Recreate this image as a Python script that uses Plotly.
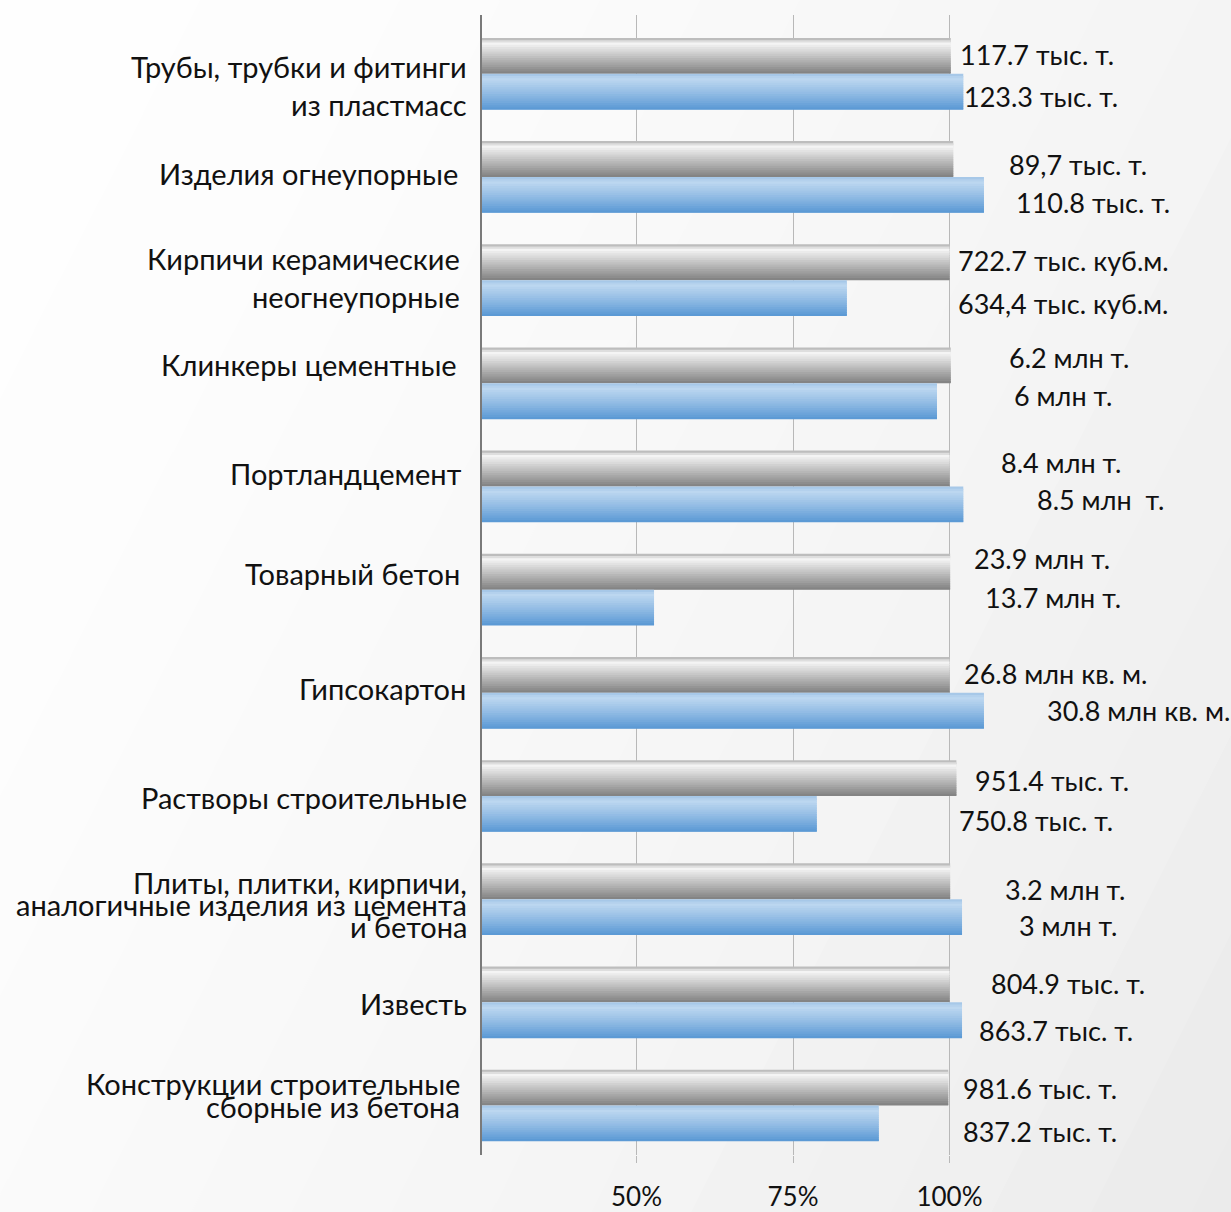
import plotly.graph_objects as go

# ---------------- data ----------------
categories = [
    "Трубы, трубки и фитинги\nиз пластмасс",
    "Изделия огнеупорные",
    "Кирпичи керамические\nнеогнеупорные",
    "Клинкеры цементные",
    "Портландцемент",
    "Товарный бетон",
    "Гипсокартон",
    "Растворы строительные",
    "Плиты, плитки, кирпичи,\nаналогичные изделия из цемента\nи бетона",
    "Известь",
    "Конструкции строительные\nсборные из бетона",
]
prev_pct = [100.2, 100.6, 100.0, 100.2, 100.0, 100.1, 100.0, 101.1, 100.1, 100.0, 99.8]
curr_pct = [102.2, 105.5, 83.6, 98.0, 102.2, 52.8, 105.5, 78.8, 102.0, 102.0, 88.7]
prev_labels = ["117.7 тыс. т.", "89,7 тыс. т.", "722.7 тыс. куб.м.", "6.2 млн т.", "8.4 млн т.",
               "23.9 млн т.", "26.8 млн кв. м.", "951.4 тыс. т.", "3.2 млн т.", "804.9 тыс. т.",
               "981.6 тыс. т."]
curr_labels = ["123.3 тыс. т.", "110.8 тыс. т.", "634,4 тыс. куб.м.", "6 млн т.", "8.5 млн  т.",
               "13.7 млн т.", "30.8 млн кв. м.", "750.8 тыс. т.", "3 млн т.", "863.7 тыс. т.",
               "837.2 тыс. т."]
tick_vals = [50, 75, 100]
tick_text = ["50%", "75%", "100%"]

# ---------------- layout helpers ----------------
W, H = 1231, 1212
ML, MR, MT, MB = 482, 0, 15, 52
PW, PH = W - ML - MR, H - MT - MB
FONT = "Lato, 'Open Sans', 'Liberation Sans', sans-serif"
FS_CAT = 29
FS_LAB = 27
FS_TICK = 26

# label positions (pixels): center x, vertical offset from category center
prev_lab_x = [1037, 1078, 1063, 1069, 1061, 1042, 1055, 1052, 1065, 1068, 1040]
curr_lab_x = [1041, 1093, 1063, 1063, 1100, 1053, 1138, 1036, 1068, 1056, 1040]
prev_lab_dy = [-19, -12, -20, -26, -24, -31, -19, -15, -10, -19, -17]
curr_lab_dy = [23, 26, 23, 12, 13, 8, 18, 25, 26, 28, 26]
cat_right = [469, 460, 462, 459, 464, 462, 468, 469, 469, 469, 462]
cat_line_dy = [[-7, 31], [-3], [-22, 16], [-19], [-13], [-16], [-4], [2], [-17, 5, 27], [1], [-22, 1]]

THICK = 0.3475
N = 16


def lerp(c1, c2, t):
    return tuple(a + (b - a) * t for a, b in zip(c1, c2))


def grad(stops, t):
    for (t0, c0), (t1, c1) in zip(stops, stops[1:]):
        if t <= t1:
            return lerp(c0, c1, (t - t0) / (t1 - t0) if t1 > t0 else 0)
    return stops[-1][1]


gray_stops = [(0.0, (172, 172, 172)), (0.14, (246, 246, 246)), (0.5, (196, 196, 196)), (1.0, (128, 128, 128))]
blue_stops = [(0.0, (160, 196, 230)), (0.14, (190, 216, 240)), (0.55, (145, 187, 228)), (1.0, (88, 152, 212))]


def rgb(c):
    return "rgb(%d,%d,%d)" % tuple(round(v) for v in c)


fig = go.Figure()
for vals, base, stops, name in [(prev_pct, -THICK, gray_stops, "prev"), (curr_pct, 0.0, blue_stops, "curr")]:
    w = THICK / N
    for k in range(N):
        t = (k + 0.5) / N
        fig.add_trace(go.Bar(
            x=vals, y=categories, orientation="h",
            offset=base + k * w, width=w * (1.8 if k < N - 1 else 1.0),
            marker=dict(color=rgb(grad(stops, t)), line=dict(width=0)),
            showlegend=False, name=name, hoverinfo="x+y",
        ))

# ---------------- background gradient ----------------
def px2paper(x, y):
    return (x - ML) / PW, (H - MB - y) / PH


shapes = []
bands = list(range(-800, 2600, 100))
for c0, c1 in zip(bands, bands[1:]):
    s = max(0.0, min(1.0, ((c0 + c1) / 2) / 1837))
    g = 254 - 19 * s ** 1.6
    pts = [(c0 + 25, -50), (c1 + 26, -50), (c1 - 630, 1262), (c0 - 631, 1262)]
    pp = [px2paper(x, y) for x, y in pts]
    path = "M %f %f L %f %f L %f %f L %f %f Z" % tuple(v for p in pp for v in p)
    shapes.append(dict(type="path", xref="paper", yref="paper", path=path,
                       fillcolor=rgb((g, g, g)), line=dict(width=0), layer="below"))

# ---------------- annotations ----------------
ann = []
for i, cat in enumerate(categories):
    lines = cat.split("\n")
    for line, dy in zip(lines, cat_line_dy[i]):
        ann.append(dict(text=line, xref="paper", x=0, xanchor="right", xshift=cat_right[i] - ML,
                        yref="y", y=cat, yanchor="middle", yshift=-dy, showarrow=False,
                        font=dict(family=FONT, size=FS_CAT, color="#111111")))
    ann.append(dict(text=prev_labels[i], xref="paper", x=(prev_lab_x[i] - ML) / PW, xanchor="center",
                    yref="y", y=cat, yanchor="middle", yshift=-prev_lab_dy[i], showarrow=False,
                    font=dict(family=FONT, size=FS_LAB, color="#111111")))
    ann.append(dict(text=curr_labels[i], xref="paper", x=(curr_lab_x[i] - ML) / PW, xanchor="center",
                    yref="y", y=cat, yanchor="middle", yshift=-curr_lab_dy[i], showarrow=False,
                    font=dict(family=FONT, size=FS_LAB, color="#111111")))

x0 = 50 - (636.5 - ML) / 6.26
x1 = 50 + (W - MR - 636.5) / 6.26

fig.update_layout(
    width=W, height=H,
    margin=dict(l=ML, r=MR, t=MT, b=MB, pad=0),
    barmode="overlay",
    paper_bgcolor="#ffffff",
    plot_bgcolor="rgba(0,0,0,0)",
    shapes=shapes,
    annotations=ann,
    xaxis=dict(range=[x0, x1], tickvals=tick_vals, ticktext=tick_text, showgrid=True,
               gridcolor="#b8b8b8", gridwidth=1, zeroline=False, showline=False,
               ticks="outside", ticklen=7, tickcolor="#b8b8b8", ticklabelstandoff=12,
               tickfont=dict(family=FONT, size=FS_TICK, color="#111111"), fixedrange=True),
    yaxis=dict(type="category", categoryorder="array", categoryarray=categories,
               range=[10.48, -0.57], showticklabels=False, showgrid=False, zeroline=False,
               showline=True, linecolor="#7a7a7a", linewidth=2, ticks="", fixedrange=True),
    font=dict(family=FONT),
)

fig.write_html(
    "out.html",
    config={"displayModeBar": False},
    post_script="document.body.style.margin='0';document.body.style.overflow='hidden';",
)
